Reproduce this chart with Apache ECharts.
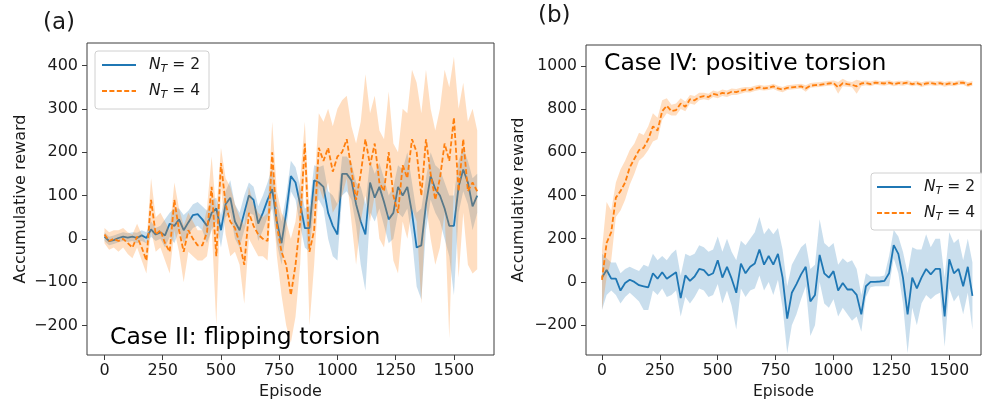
<!DOCTYPE html>
<html><head><meta charset="utf-8">
<script src="https://cdn.jsdelivr.net/npm/echarts@6/dist/echarts.min.js"></script>
<style>html,body{margin:0;padding:0;background:#fff}#c{width:982px;height:405px}</style>
</head><body><div id="c"></div>
<script>
const episodes = [
 0,20,40,60,80,100,120,140,160,180,
 200,220,240,260,280,300,320,340,360,380,
 400,420,440,460,480,500,520,540,560,580,
 600,620,640,660,680,700,720,740,760,780,
 800,820,840,860,880,900,920,940,960,980,
 1000,1020,1040,1060,1080,1100,1120,1140,1160,1180,
 1200,1220,1240,1260,1280,1300,1320,1340,1360,1380,
 1400,1420,1440,1460,1480,1500,1520,1540,1560,1580,
 1600];

// Panel (a): Case II, flipping torsion
const aMeanNT2 = [
 5,-5,-3,2,5,3,5,2,8,2,
 22,10,15,8,35,30,45,20,38,55,
 57,45,30,60,70,20,80,95,40,20,
 60,100,90,35,60,90,115,40,-10,60,
 145,130,80,25,25,135,130,120,60,30,
 10,150,150,135,80,40,10,130,95,120,
 85,45,60,120,100,120,60,-20,-15,80,
 145,115,100,70,30,30,120,160,130,75,
 100];
const aLowNT2 = [
 -5,-15,-12,-8,-5,-7,-5,-10,-5,-10,
 5,-5,0,-20,5,-10,20,-10,10,25,
 30,20,-10,20,40,-20,50,60,0,-20,
 20,60,55,-5,20,50,70,-10,-60,20,
 110,90,30,-20,-30,80,90,70,0,-40,
 -50,100,110,90,30,-60,-120,60,40,70,
 30,-10,0,60,50,70,0,-110,-140,20,
 90,60,40,0,-40,-130,60,110,80,20,
 60];
const aHighNT2 = [
 15,5,8,12,15,13,15,14,20,15,
 40,25,30,45,60,70,70,55,65,80,
 85,75,65,90,95,55,110,135,80,60,
 100,130,120,75,100,130,165,85,40,100,
 180,165,120,70,75,170,165,170,110,100,
 80,190,190,175,130,120,80,180,150,175,
 140,100,120,170,160,200,130,60,70,140,
 200,170,160,130,100,100,180,210,180,140,
 150];
const aMeanNT4 = [
 10,-5,0,-5,0,-10,-20,5,-20,-50,
 90,10,20,-10,-30,90,20,-30,20,0,
 -15,-15,15,120,-40,175,80,40,25,-10,
 -60,60,30,10,0,-5,200,30,-30,-60,
 -130,-60,40,220,-30,20,210,180,210,155,
 190,200,230,160,90,150,230,170,220,130,
 110,200,100,60,170,140,230,200,100,230,
 150,90,140,220,180,280,110,230,110,130,
 110];
const aLowNT4 = [
 -10,-25,-20,-30,-20,-35,-45,-20,-50,-80,
 20,-30,-20,-50,-80,20,-30,-100,-30,-40,
 -50,-50,-40,30,-200,120,10,-40,-30,-60,
 -150,0,-20,-40,-40,-50,110,-40,-130,-200,
 -240,-180,-60,160,-200,-60,120,90,130,60,
 80,100,140,40,-60,40,100,40,100,0,
 -20,60,-50,-80,40,0,70,40,-150,80,
 0,-60,-20,60,-230,130,-90,60,-60,-80,
 -70];
const aHighNT4 = [
 25,15,20,20,25,15,10,35,10,-10,
 140,50,60,40,20,130,70,30,60,40,
 20,20,70,190,60,210,140,120,80,50,
 30,120,80,60,50,60,270,110,60,40,
 0,40,140,270,60,110,290,270,300,260,
 300,320,330,260,220,270,380,290,330,250,
 230,340,220,200,300,290,390,360,290,390,
 300,250,300,390,350,420,300,360,270,300,
 250];

// Panel (b): Case IV, positive torsion
const bMeanNT2 = [
 20,55,15,15,-40,-5,10,0,-15,-20,
 -25,40,15,45,15,30,45,-75,30,5,
 25,60,55,30,40,100,20,70,15,-50,
 85,40,70,85,150,80,120,80,130,20,
 -170,-50,-10,35,70,-90,-60,125,40,20,
 50,-40,-5,-35,-35,-60,-150,-20,0,0,
 2,5,40,170,130,20,-150,20,-30,20,
 60,35,60,60,-160,105,40,60,-20,70,
 -65];
const bLowNT2 = [
 -130,-60,-40,-60,-100,-70,-50,-70,-90,-130,
 -130,-40,-60,-30,-70,-60,-40,-160,-70,-100,
 -70,-30,-40,-70,-60,-10,-100,-40,-110,-220,
 -30,-70,-40,-30,30,-40,0,-60,10,-120,
 -330,-200,-150,-80,-20,-250,-200,0,-100,-120,
 -80,-160,-120,-150,-180,-160,-230,-70,-25,-20,
 -20,-20,-20,110,40,-100,-330,-120,-200,-100,
 -60,-80,-60,-50,-300,-30,-90,-60,-150,-50,
 -220];
const bHighNT2 = [
 130,110,90,90,40,60,70,60,50,80,
 70,130,100,120,100,130,150,30,130,120,
 130,170,160,140,150,210,140,200,140,100,
 190,170,200,230,300,220,250,220,250,150,
 -20,80,120,160,180,60,80,290,180,160,
 180,80,110,90,100,60,-60,40,25,25,
 25,30,120,240,210,140,40,160,150,150,
 220,160,200,200,20,230,180,200,100,200,
 90];
const bMeanNT4 = [
 10,180,230,390,420,460,530,570,610,620,
 660,720,700,790,815,790,795,825,810,845,
 840,855,860,855,870,865,875,870,880,878,
 885,890,888,895,900,895,898,905,895,890,
 898,900,903,905,895,908,910,912,915,918,
 920,900,920,915,912,905,918,920,915,922,
 920,918,922,915,920,918,922,915,920,912,
 918,920,916,920,913,918,915,921,922,912,
 918];
const bLowNT4 = [
 -130,20,100,300,330,380,450,500,560,580,
 610,650,660,750,780,770,770,800,790,825,
 820,840,845,840,855,850,860,855,865,865,
 870,878,876,883,888,885,888,893,883,878,
 888,890,893,895,880,898,900,902,905,908,
 910,870,905,903,900,870,905,910,905,912,
 910,908,912,905,910,908,912,905,910,902,
 908,910,906,910,903,908,905,911,912,902,
 908];
const bHighNT4 = [
 150,370,330,460,520,560,610,640,690,680,
 720,780,760,840,850,820,825,850,835,865,
 860,875,875,870,885,880,890,885,895,892,
 898,902,900,908,912,908,910,917,907,902,
 910,912,915,917,910,920,922,924,927,930,
 932,925,940,928,925,935,930,932,927,933,
 930,930,933,926,931,929,933,926,931,924,
 929,931,927,931,925,929,926,932,933,924,
 929];

const xTickValues = [0,250,500,750,1000,1250,1500];
const aYTickValues = [-200,-100,0,100,200,300,400];
const bYTickValues = [-200,0,200,400,600,800,1000];
const panelLabels = ['(a)','(b)'];
const caseLabels = ['Case II: flipping torsion','Case IV: positive torsion'];
const legendNames = ['NT2','NT4'];

const BLUE = '#1f77b4', ORANGE = '#ff7f0e';
const BLUE_BAND = 'rgba(31,119,180,0.24)', ORANGE_BAND = 'rgba(255,127,14,0.26)';
const FONT = 'DejaVu Sans';
const INK = '#1a1a1a';
const FRAME = '#3c3c3c';

function pairs(ys){ return episodes.map((x,i)=>[x, ys[i]]); }

function bandSeries(idx, lo, hi, color, z){
  return {
    type:'custom', xAxisIndex:idx, yAxisIndex:idx, silent:true, clip:true, z:z,
    data:[[episodes[0], lo[0]]],
    encode:{x:0, y:1},
    renderItem:function(params, api){
      const pts = [];
      for (let i=0;i<episodes.length;i++) pts.push(api.coord([episodes[i], hi[i]]));
      for (let i=episodes.length-1;i>=0;i--) pts.push(api.coord([episodes[i], lo[i]]));
      return {type:'polygon', shape:{points:pts}, style:{fill:color, stroke:null}};
    }
  };
}
function lineSeries(idx, name, ys, color, dashed, z){
  return {
    type:'line', name:name, xAxisIndex:idx, yAxisIndex:idx, data:pairs(ys),
    symbol:'none', showSymbol:false, silent:true, z:z, clip:true,
    lineStyle:{color:color, width:1.8, type: dashed ? [5,2.4] : 'solid'},
    itemStyle:{color:color}
  };
}
const minusFmt = v => String(v).replace('-', '\u2212');

function xAxisCfg(idx, min, max, fs){
  return {
    type:'value', gridIndex:idx, min:min, max:max,
    axisLine:{show:false, onZero:false},
    axisTick:{show:true, length:5, lineStyle:{color:FRAME, width:1}, customValues:xTickValues},
    axisLabel:{fontFamily:FONT, fontSize:fs, color:INK, margin:8, customValues:xTickValues, formatter:minusFmt},
    splitLine:{show:false},
    name:'Episode', nameLocation:'middle', nameGap:29,
    nameTextStyle:{fontFamily:FONT, fontSize:fs, color:INK}
  };
}
function yAxisCfg(idx, min, max, ticks, gap, fs){
  return {
    type:'value', gridIndex:idx, min:min, max:max,
    axisLine:{show:false, onZero:false},
    axisTick:{show:true, length:5, lineStyle:{color:FRAME, width:1}, customValues:ticks},
    axisLabel:{fontFamily:FONT, fontSize:fs, color:INK, margin:9, customValues:ticks, formatter:minusFmt},
    splitLine:{show:false},
    name:'Accumulative reward', nameLocation:'middle', nameGap:gap,
    nameTextStyle:{fontFamily:FONT, fontSize:fs, color:INK}
  };
}
function legendCfg(left, top, padding){
  return {
    data:legendNames, left:left, top:top, orient:'vertical',
    itemWidth:34, itemHeight:12, itemGap:6, padding:padding,
    backgroundColor:'rgba(255,255,255,0.85)', borderColor:'#d0d0d0', borderWidth:1, borderRadius:3,
    selectedMode:false, z:20,
    itemStyle:{opacity:0, borderWidth:0},
    formatter:function(n){ return n==='NT2' ? '{n|N}{t|T}{r| = 2}' : '{n|N}{t|T}{r| = 4}'; },
    textStyle:{fontFamily:FONT, fontSize:15, color:INK, lineHeight:20,
      rich:{
        n:{fontFamily:FONT, fontSize:15.5, fontStyle:'italic', color:INK, padding:[0,0,0,8]},
        t:{fontFamily:FONT, fontSize:11, fontStyle:'italic', color:INK, padding:[8,0,0,0]},
        r:{fontFamily:FONT, fontSize:15.5, color:INK}
      }}
  };
}

const chart = echarts.init(document.getElementById('c'), null, {renderer:'canvas'});
chart.setOption({
  animation:false,
  backgroundColor:'#ffffff',
  grid:[
    {left:87, top:43, width:407, height:316, show:true, borderColor:FRAME, borderWidth:1, backgroundColor:'transparent'},
    {left:586, top:45, width:395, height:315, show:true, borderColor:FRAME, borderWidth:1, backgroundColor:'transparent'}
  ],
  xAxis:[ xAxisCfg(0, -75, 1672, 16), xAxisCfg(1, -69, 1637, 15.6) ],
  yAxis:[ yAxisCfg(0, -268, 452, aYTickValues, 58, 16), yAxisCfg(1, -338, 1096, bYTickValues, 59, 15.6) ],
  legend:[ legendCfg(95, 51, [4,9,8,6]), legendCfg(871, 173, [4,9,7,5]) ],
  series:[
    bandSeries(0, aLowNT2, aHighNT2, BLUE_BAND, 1),
    lineSeries(0, 'NT2', aMeanNT2, BLUE, false, 2),
    bandSeries(0, aLowNT4, aHighNT4, ORANGE_BAND, 3),
    lineSeries(0, 'NT4', aMeanNT4, ORANGE, true, 4),
    bandSeries(1, bLowNT2, bHighNT2, BLUE_BAND, 1),
    lineSeries(1, 'NT2', bMeanNT2, BLUE, false, 2),
    bandSeries(1, bLowNT4, bHighNT4, ORANGE_BAND, 3),
    lineSeries(1, 'NT4', bMeanNT4, ORANGE, true, 4)
  ],
  graphic:[
    {type:'text', x:43, y:23, z:30, style:{text:panelLabels[0], font:'23px "DejaVu Sans"', fill:INK, align:'left', verticalAlign:'middle'}},
    {type:'text', x:538, y:16, z:30, style:{text:panelLabels[1], font:'23px "DejaVu Sans"', fill:INK, align:'left', verticalAlign:'middle'}},
    {type:'text', x:110, y:338, z:30, style:{text:caseLabels[0], font:'23.5px "DejaVu Sans"', fill:'#000', align:'left', verticalAlign:'middle'}},
    {type:'text', x:604, y:64, z:30, style:{text:caseLabels[1], font:'23.5px "DejaVu Sans"', fill:'#000', align:'left', verticalAlign:'middle'}}
  ]
});
</script></body></html>
